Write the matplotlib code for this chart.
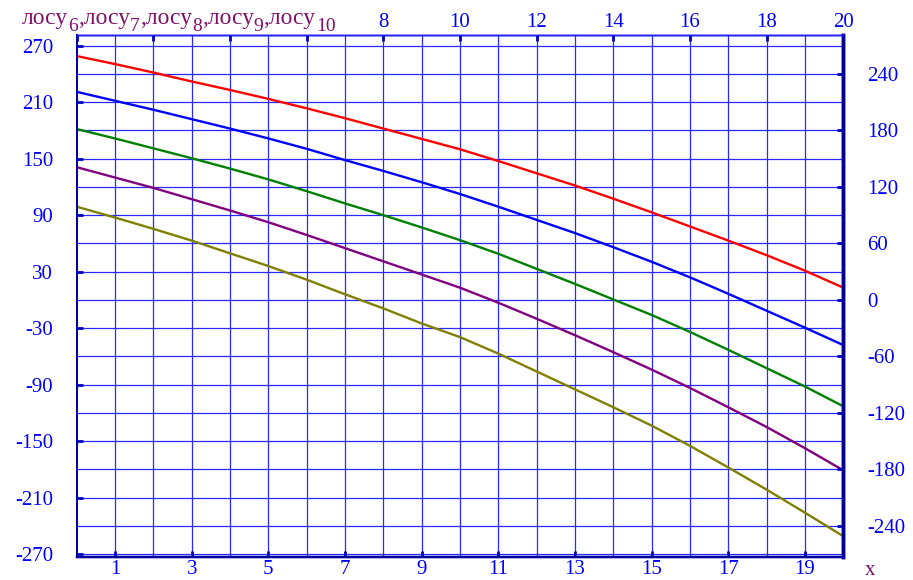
import numpy as np
import matplotlib
matplotlib.use("Agg")
import matplotlib.pyplot as plt

plt.rcParams['font.family'] = ['Liberation Serif', 'DejaVu Serif']

# ---- data ----
x = np.arange(0, 21)
locy6 = [259, 250.5, 241.5, 232, 223, 213.5, 203.5, 193, 182, 171, 160,
         147.5, 134.5, 121.5, 107.5, 93, 78, 63, 47.5, 31, 13]
locy7 = [221, 211.5, 202, 192, 182, 171.5, 160.5, 148.5, 137, 125, 112.5,
         99, 85, 71, 56, 40.5, 24, 6.5, -11.5, -29.5, -48]
locy8 = [181.5, 171.5, 161, 150.5, 139.5, 128, 115.5, 102.5, 90, 77, 63.5,
         49, 33, 17, 0.5, -16, -34, -53, -72.5, -92, -113]
locy9 = [141, 130, 119, 107, 95, 82.5, 69, 55, 41, 27, 13,
         -3, -20, -37.5, -55.5, -74, -93.5, -114, -135, -157.5, -181]
locy10 = [99, 87.5, 75.5, 63, 49.5, 36, 21.5, 6, -9, -25, -39.5,
          -57, -76, -95, -114, -133.5, -155, -178, -201.5, -226, -251]

series = [locy6, locy7, locy8, locy9, locy10]
colors = ['#ff0000', '#0000ff', '#008000', '#800080', '#808000']
subscripts = ['6', '7', '8', '9', '10']

left_ticks = np.arange(-270, 271, 60)
right_ticks = np.arange(-240, 241, 60)
bottom_ticks = np.arange(1, 20, 2)
top_ticks = np.arange(0, 21, 2)
top_labels = ['', '', '', '', '8', '10', '12', '14', '16', '18', '20']

x_lim = (0, 20)
y_lim = (-273, 281.4)

tick_color = '#0000ff'
label_purple = '#80106a'

fig = plt.figure(figsize=(9.13, 5.80), dpi=100)
ax = fig.add_axes([0.084, 0.0397, 0.8397, 0.9])

# grid
for xv in range(1, 20):
    ax.axvline(xv, color='#2828ff', lw=0.9, zorder=1)
for yv in np.arange(-270, 271, 30):
    ax.axhline(yv, color='#2828ff', lw=0.9, zorder=1)

for ys, c in zip(series, colors):
    ax.plot(x, ys, color=c, lw=1.7, zorder=3, solid_capstyle='butt')

ax.set_xlim(*x_lim)
ax.set_ylim(*y_lim)

ax.set_yticks(left_ticks)
ax.set_yticklabels([str(v) for v in left_ticks])
ax.set_xticks(bottom_ticks)
ax.set_xticklabels([str(v) for v in bottom_ticks])
ax.tick_params(axis='y', direction='in', length=4, width=2, color='#0000c0',
               labelcolor=tick_color, labelsize=15, pad=17)
ax.tick_params(axis='x', direction='in', length=4, width=2, color='#0000c0',
               labelcolor=tick_color, labelsize=15, pad=2)

ax_r = ax.twinx()
ax_r.set_ylim(*y_lim)
ax_r.set_yticks(right_ticks)
ax_r.set_yticklabels([str(v) for v in right_ticks])
ax_r.tick_params(axis='y', direction='in', length=4, width=2, color='#0000c0',
                 labelcolor=tick_color, labelsize=15, pad=17)

ax_t = ax.twiny()
ax_t.set_xlim(*x_lim)
ax_t.set_xticks(top_ticks)
ax_t.set_xticklabels(top_labels)
ax_t.tick_params(axis='x', direction='in', length=4, width=2, color='#0000c0',
                 labelcolor=tick_color, labelsize=15, pad=2)

for a in (ax, ax_r, ax_t):
    a.spines['left'].set_color('#0000a0')
    a.spines['left'].set_linewidth(1.2)
    a.spines['top'].set_color('#2020ff')
    a.spines['top'].set_linewidth(1.0)
    a.spines['bottom'].set_color('#0000a0')
    a.spines['bottom'].set_linewidth(1.6)
    a.spines['right'].set_color('#000090')
    a.spines['right'].set_linewidth(2.4)

# series names at the top left: лосу_6,лосу_7,... with real subscripts
prev = ax.annotate('лосу', xy=(22, 556), xycoords='figure pixels',
                   va='baseline', ha='left', fontsize=17,
                   color=label_purple, annotation_clip=False)
main = prev
for i, sub in enumerate(subscripts):
    s = ax.annotate(sub, xy=(1, 0), xycoords=prev, xytext=(0, 8),
                    textcoords='offset points', va='top', ha='left',
                    fontsize=14, color=label_purple, annotation_clip=False)
    if i < len(subscripts) - 1:
        prev = ax.annotate(',лосу', xy=(1, 0), xycoords=(s, main),
                           va='bottom', ha='left', fontsize=17,
                           color=label_purple, annotation_clip=False)

fig.text(0.953, 0.017, 'x', color=label_purple, fontsize=15,
         ha='center', va='center')

fig.savefig('out.png', dpi=100)
